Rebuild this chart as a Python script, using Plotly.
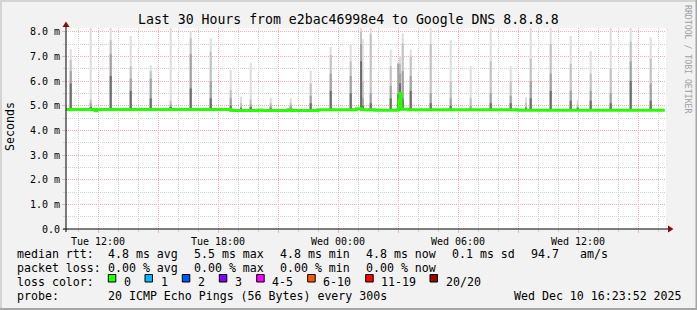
import plotly.graph_objects as go

# ---------------- data ----------------
spike_times = [
    "2025-12-09 10:38", "2025-12-09 11:38", "2025-12-09 12:38", "2025-12-09 13:38",
    "2025-12-09 14:38", "2025-12-09 15:38", "2025-12-09 16:38", "2025-12-09 17:38",
    "2025-12-09 18:38", "2025-12-09 19:09", "2025-12-09 19:38", "2025-12-09 20:38",
    "2025-12-09 21:38", "2025-12-09 22:38", "2025-12-09 23:38", "2025-12-10 00:38",
    "2025-12-10 01:09", "2025-12-10 01:14", "2025-12-10 01:38", "2025-12-10 02:38",
    "2025-12-10 03:01", "2025-12-10 03:06", "2025-12-10 03:14", "2025-12-10 03:38",
    "2025-12-10 04:38", "2025-12-10 05:38", "2025-12-10 06:38", "2025-12-10 07:38",
    "2025-12-10 08:38", "2025-12-10 09:24", "2025-12-10 09:38", "2025-12-10 10:38",
    "2025-12-10 11:38", "2025-12-10 11:59", "2025-12-10 12:38", "2025-12-10 13:38",
    "2025-12-10 14:38", "2025-12-10 15:38",
]
# sorted ping levels of the smoke (ms): highest ping, 2nd, 3rd, 4th
spike_p20 = [7.30, 8.20, 8.20, 7.82, 6.65, 8.20, 8.00, 7.73, 6.45, 5.36, 6.74, 5.32,
             5.30, 6.42, 7.38, 7.50, 8.20, 7.70, 8.20, 7.26, 6.75, 7.00, 7.93, 7.28,
             8.20, 7.66, 6.60, 8.20, 6.60, 5.34, 8.20, 8.20, 7.82, 5.25, 7.21, 8.20,
             8.20, 7.77]
spike_p19 = [6.85, 5.25, 7.65, 6.60, 6.40, 5.20, 7.73, 7.19, 5.63, 5.10, 5.25, 5.10,
             5.10, 5.90, 7.05, 6.80, 8.00, 6.00, 7.90, 6.60, 6.72, 6.70, 7.53, 7.00,
             7.50, 6.00, 5.30, 6.80, 6.00, 5.10, 6.90, 7.50, 6.70, 5.05, 6.30, 6.50,
             7.60, 6.90]
spike_p18 = [6.40, 5.10, 7.10, 6.10, 6.10, 5.05, 7.10, 6.00, 5.30, 4.95, 5.05, 5.00,
             5.00, 5.40, 6.30, 6.20, 7.50, 5.30, 5.50, 5.80, 6.70, 6.30, 6.40, 6.20,
             5.50, 5.30, 5.00, 5.50, 5.40, 4.95, 6.00, 6.30, 5.60, 4.95, 5.60, 5.50,
             6.80, 5.90]
spike_p17 = [5.90, 4.95, 6.20, 5.60, 5.30, 4.95, 5.70, 5.30, 5.00, 4.90, 4.95, 4.90,
             4.90, 5.10, 5.60, 5.50, 6.80, 5.00, 5.10, 5.30, 5.47, 5.90, 5.30, 5.60,
             5.10, 5.00, 4.90, 5.10, 5.10, 4.90, 5.30, 5.60, 5.20, 4.90, 5.20, 5.10,
             6.00, 5.20]
smoke_base = 4.82

median_times = [
    "2025-12-09 10:24", "2025-12-09 11:51", "2025-12-09 11:57", "2025-12-09 18:39",
    "2025-12-09 20:00", "2025-12-09 20:12", "2025-12-09 21:30", "2025-12-09 21:40",
    "2025-12-09 23:00", "2025-12-10 00:55", "2025-12-10 01:10", "2025-12-10 01:50",
    "2025-12-10 02:58", "2025-12-10 03:03", "2025-12-10 03:06", "2025-12-10 03:09",
    "2025-12-10 03:30", "2025-12-10 09:00", "2025-12-10 16:20",
]
median_values = [4.85, 4.79, 4.85, 4.80, 4.83, 4.80, 4.84, 4.80, 4.84, 4.88, 4.84,
                 4.81, 4.84, 5.20, 5.50, 4.86, 4.84, 4.82, 4.82]

ytick_vals = [0, 1, 2, 3, 4, 5, 6, 7, 8]
ytick_text = ["0.0", "1.0 m", "2.0 m", "3.0 m", "4.0 m", "5.0 m", "6.0 m", "7.0 m", "8.0 m"]
xtick_vals = ["2025-12-09 12:00", "2025-12-09 15:00", "2025-12-09 18:00", "2025-12-09 21:00",
              "2025-12-10 00:00", "2025-12-10 03:00", "2025-12-10 06:00", "2025-12-10 09:00",
              "2025-12-10 12:00", "2025-12-10 15:00"]
xtick_text = ["Tue 12:00", "", "Tue 18:00", "", "Wed 00:00", "", "Wed 06:00", "",
              "Wed 12:00", ""]

title_text = "Last 30 Hours from e2bac46998e4 to Google DNS 8.8.8.8"
rtt_label = "median rtt:"
rtt_items = ["4.8 ms avg", "5.5 ms max", "4.8 ms min", "4.8 ms now", "0.1 ms sd", "94.7", "am/s"]
loss_label = "packet loss:"
loss_items = ["0.00 % avg", "0.00 % max", "0.00 % min", "0.00 % now"]
color_label = "loss color:"
loss_names = ["0", "1", "2", "3", "4-5", "6-10", "11-19", "20/20"]
loss_colors = ["#26ff00", "#00b8ff", "#0059ff", "#7e00ff", "#ff00ff", "#ff5500", "#ff0000", "#a10000"]
probe_label = "probe:"
probe_text = "20 ICMP Echo Pings (56 Bytes) every 300s"
stamp_text = "Wed Dec 10 16:23:52 2025"

# ---------------- geometry ----------------
W, H = 697, 310
PL, PR, PT, PB = 66, 666, 28, 229
FONT = "DejaVu Sans Mono"


def px(x):
    return (x - PL) / (PR - PL)


def py(y):
    return (PB - y) / (PB - PT)


fig = go.Figure()

layer_cols = ["#dddddd", "#c2c2c2", "#a2a2a2", "#6e6e6e"]
for col, tops in zip(layer_cols, [spike_p20, spike_p19, spike_p18, spike_p17]):
    xs, ys = [], []
    for t, v in zip(spike_times, tops):
        xs += [t, t, None]
        ys += [smoke_base, v, None]
    fig.add_trace(go.Scatter(x=xs, y=ys, mode="lines", line=dict(color=col, width=2),
                             hoverinfo="skip", showlegend=False))

fig.add_trace(go.Scatter(x=median_times, y=median_values, mode="lines",
                         line=dict(color="#26ff00", width=3, shape="hv"),
                         hoverinfo="skip", showlegend=False))

shapes = []
# frame
shapes.append(dict(type="rect", xref="paper", yref="paper", x0=px(0), x1=px(W), y0=py(0), y1=py(2),
                   fillcolor="#d4d4d4", line=dict(width=0), layer="below"))
shapes.append(dict(type="rect", xref="paper", yref="paper", x0=px(0), x1=px(2), y0=py(0), y1=py(H),
                   fillcolor="#d4d4d4", line=dict(width=0), layer="below"))
shapes.append(dict(type="rect", xref="paper", yref="paper", x0=px(0), x1=px(W), y0=py(H - 2), y1=py(H),
                   fillcolor="#a6a6a6", line=dict(width=0), layer="below"))
shapes.append(dict(type="rect", xref="paper", yref="paper", x0=px(W - 1.5), x1=px(W), y0=py(0), y1=py(H),
                   fillcolor="#a6a6a6", line=dict(width=0), layer="below"))
# axes
shapes.append(dict(type="line", xref="paper", yref="paper", x0=px(63), x1=px(670), y0=py(229), y1=py(229),
                   line=dict(color="#000000", width=1), layer="above"))
shapes.append(dict(type="line", xref="paper", yref="paper", x0=px(66), x1=px(66), y0=py(232), y1=py(25),
                   line=dict(color="#000000", width=1), layer="above"))
shapes.append(dict(type="path", xref="paper", yref="paper",
                   path=f"M {px(668)} {py(225.5)} L {px(673.5)} {py(229)} L {px(668)} {py(232.5)} Z",
                   fillcolor="#7f1010", line=dict(width=0), layer="above"))
shapes.append(dict(type="path", xref="paper", yref="paper",
                   path=f"M {px(62.5)} {py(27)} L {px(66)} {py(21.5)} L {px(69.5)} {py(27)} Z",
                   fillcolor="#7f1010", line=dict(width=0), layer="above"))

ann = []


def text(x, y, s, size=11.6, anchor="left", color="#000000", angle=0):
    ann.append(dict(xref="paper", yref="paper", x=px(x), y=py(y), text=s, showarrow=False,
                    xanchor=anchor, yanchor="middle", textangle=angle, borderpad=0,
                    font=dict(family=FONT, size=size, color=color)))


text(348, 19, title_text, size=13.2, anchor="center")
text(10, 127, "Seconds", anchor="center", angle=-90)
text(688, 59, "RRDTOOL / TOBI OETIKER", size=8.2, anchor="center", color="#a0a0a0", angle=90)

rtt_x = [107.3, 193.3, 279.3, 365, 451, 530, 579.3]
text(16, 254, rtt_label)
for x, s in zip(rtt_x, rtt_items):
    text(x, 254, s)
text(16, 268, loss_label)
for x, s in zip(rtt_x[:4], loss_items):
    text(x, 268, s)
text(16, 282, color_label)
box_x = [108.3, 145, 182.3, 219.3, 256.7, 307.7, 365.7, 430]
for x, s, c in zip(box_x, loss_names, loss_colors):
    shapes.append(dict(type="rect", xref="paper", yref="paper", x0=px(x), x1=px(x + 7.5),
                       y0=py(282), y1=py(274.5), fillcolor=c, line=dict(color="#000000", width=1)))
    text(x + 14.7, 282, s)
text(16, 296, probe_label)
text(107.3, 296, probe_text)
text(512.7, 296, stamp_text)

grid_major = "#f5b0b0"
grid_minor = "#d2d2d2"

fig.update_layout(
    width=W, height=H,
    margin=dict(l=PL, r=W - PR, t=PT, b=H - PB, pad=0),
    paper_bgcolor="#f2f2f2", plot_bgcolor="#ffffff",
    showlegend=False,
    font=dict(family=FONT, size=10, color="#000000"),
    shapes=shapes, annotations=ann,
    xaxis=dict(type="date", range=["2025-12-09 10:23:52", "2025-12-10 16:23:52"],
               tickvals=xtick_vals, ticktext=xtick_text, tickangle=0,
               showgrid=True, gridcolor=grid_major, griddash="1px,1px", gridwidth=1,
               ticks="outside", ticklen=3, tickcolor=grid_major, tickwidth=1,
               tickfont=dict(family=FONT, size=10, color="#000000"),
               minor=dict(dtick=3600000, tick0="2025-12-09 00:00", showgrid=True,
                          gridcolor=grid_minor, griddash="1px,1px", ticks="outside",
                          ticklen=2, tickcolor=grid_minor),
               showline=False, zeroline=False, fixedrange=True),
    yaxis=dict(range=[0, 8.15], tickvals=ytick_vals, ticktext=ytick_text,
               showgrid=True, gridcolor=grid_major, griddash="1px,1px", gridwidth=1,
               ticks="outside", ticklen=3, tickcolor=grid_major, tickwidth=1,
               tickfont=dict(family=FONT, size=10, color="#000000"),
               minor=dict(dtick=0.5, tick0=0, showgrid=True, gridcolor=grid_minor,
                          griddash="1px,1px", ticks="outside", ticklen=2, tickcolor=grid_minor),
               showline=False, zeroline=False, fixedrange=True),
)

fig.write_html("out.html")
